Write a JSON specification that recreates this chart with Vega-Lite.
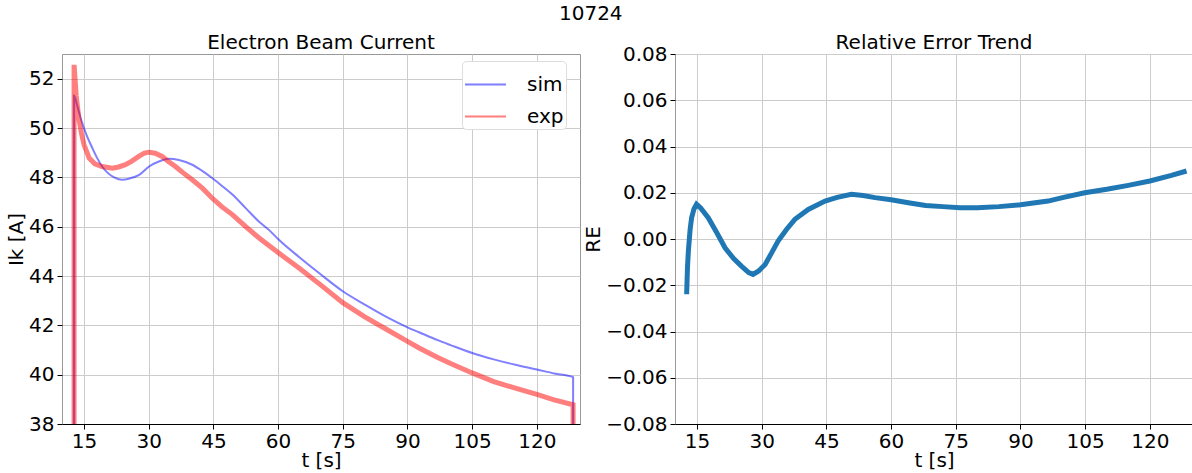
{
  "$schema": "https://vega.github.io/schema/vega-lite/v6.json",
  "padding": {"left": 6, "top": 4, "right": 0, "bottom": 0},
  "title": {"text": "10724", "fontSize": 20, "fontWeight": "normal", "anchor": "middle", "offset": 8.5, "dx": -9},
  "datasets": {
    "beam": [
      {"i": 0, "t": 12.7, "Ik": 38, "series": "sim"},
      {"i": 1, "t": 12.7, "Ik": 51.32, "series": "sim"},
      {"i": 2, "t": 13.5, "Ik": 50.85, "series": "sim"},
      {"i": 3, "t": 14.5, "Ik": 50.25, "series": "sim"},
      {"i": 4, "t": 15.5, "Ik": 49.75, "series": "sim"},
      {"i": 5, "t": 16.9, "Ik": 49.2, "series": "sim"},
      {"i": 6, "t": 18, "Ik": 48.8, "series": "sim"},
      {"i": 7, "t": 19.2, "Ik": 48.44, "series": "sim"},
      {"i": 8, "t": 20.5, "Ik": 48.18, "series": "sim"},
      {"i": 9, "t": 22, "Ik": 48.0, "series": "sim"},
      {"i": 10, "t": 23.9, "Ik": 47.9, "series": "sim"},
      {"i": 11, "t": 25.5, "Ik": 47.95, "series": "sim"},
      {"i": 12, "t": 27.8, "Ik": 48.1, "series": "sim"},
      {"i": 13, "t": 30.1, "Ik": 48.44, "series": "sim"},
      {"i": 14, "t": 32.5, "Ik": 48.65, "series": "sim"},
      {"i": 15, "t": 34.7, "Ik": 48.75, "series": "sim"},
      {"i": 16, "t": 37, "Ik": 48.7, "series": "sim"},
      {"i": 17, "t": 40.1, "Ik": 48.51, "series": "sim"},
      {"i": 18, "t": 42.5, "Ik": 48.25, "series": "sim"},
      {"i": 19, "t": 44.7, "Ik": 47.97, "series": "sim"},
      {"i": 20, "t": 47, "Ik": 47.65, "series": "sim"},
      {"i": 21, "t": 49.4, "Ik": 47.3, "series": "sim"},
      {"i": 22, "t": 52.5, "Ik": 46.75, "series": "sim"},
      {"i": 23, "t": 55.6, "Ik": 46.2, "series": "sim"},
      {"i": 24, "t": 58, "Ik": 45.85, "series": "sim"},
      {"i": 25, "t": 60, "Ik": 45.5, "series": "sim"},
      {"i": 26, "t": 65, "Ik": 44.75, "series": "sim"},
      {"i": 27, "t": 70, "Ik": 44.05, "series": "sim"},
      {"i": 28, "t": 75, "Ik": 43.38, "series": "sim"},
      {"i": 29, "t": 80, "Ik": 42.85, "series": "sim"},
      {"i": 30, "t": 85, "Ik": 42.35, "series": "sim"},
      {"i": 31, "t": 90, "Ik": 41.92, "series": "sim"},
      {"i": 32, "t": 92.7, "Ik": 41.72, "series": "sim"},
      {"i": 33, "t": 97, "Ik": 41.4, "series": "sim"},
      {"i": 34, "t": 100, "Ik": 41.2, "series": "sim"},
      {"i": 35, "t": 105, "Ik": 40.88, "series": "sim"},
      {"i": 36, "t": 110, "Ik": 40.62, "series": "sim"},
      {"i": 37, "t": 115, "Ik": 40.4, "series": "sim"},
      {"i": 38, "t": 120, "Ik": 40.21, "series": "sim"},
      {"i": 39, "t": 124, "Ik": 40.05, "series": "sim"},
      {"i": 40, "t": 128.4, "Ik": 39.9, "series": "sim"},
      {"i": 41, "t": 128.4, "Ik": 38, "series": "sim"},
      {"i": 0, "t": 12.7, "Ik": 38, "series": "exp"},
      {"i": 1, "t": 12.7, "Ik": 52.56, "series": "exp"},
      {"i": 2, "t": 13.2, "Ik": 51.3, "series": "exp"},
      {"i": 3, "t": 13.8, "Ik": 50.4, "series": "exp"},
      {"i": 4, "t": 14.4, "Ik": 49.8, "series": "exp"},
      {"i": 5, "t": 15, "Ik": 49.33, "series": "exp"},
      {"i": 6, "t": 16.2, "Ik": 48.78, "series": "exp"},
      {"i": 7, "t": 17.5, "Ik": 48.55, "series": "exp"},
      {"i": 8, "t": 19.2, "Ik": 48.44, "series": "exp"},
      {"i": 9, "t": 21.6, "Ik": 48.37, "series": "exp"},
      {"i": 10, "t": 23, "Ik": 48.42, "series": "exp"},
      {"i": 11, "t": 24.6, "Ik": 48.51, "series": "exp"},
      {"i": 12, "t": 26, "Ik": 48.65, "series": "exp"},
      {"i": 13, "t": 27.7, "Ik": 48.85, "series": "exp"},
      {"i": 14, "t": 29, "Ik": 48.98, "series": "exp"},
      {"i": 15, "t": 30.1, "Ik": 49.02, "series": "exp"},
      {"i": 16, "t": 31.5, "Ik": 48.98, "series": "exp"},
      {"i": 17, "t": 33.1, "Ik": 48.85, "series": "exp"},
      {"i": 18, "t": 34.5, "Ik": 48.65, "series": "exp"},
      {"i": 19, "t": 36.2, "Ik": 48.44, "series": "exp"},
      {"i": 20, "t": 38, "Ik": 48.18, "series": "exp"},
      {"i": 21, "t": 40.1, "Ik": 47.9, "series": "exp"},
      {"i": 22, "t": 42.5, "Ik": 47.55, "series": "exp"},
      {"i": 23, "t": 44.7, "Ik": 47.16, "series": "exp"},
      {"i": 24, "t": 47, "Ik": 46.8, "series": "exp"},
      {"i": 25, "t": 49.4, "Ik": 46.49, "series": "exp"},
      {"i": 26, "t": 52.5, "Ik": 46.0, "series": "exp"},
      {"i": 27, "t": 55.6, "Ik": 45.54, "series": "exp"},
      {"i": 28, "t": 60, "Ik": 44.95, "series": "exp"},
      {"i": 29, "t": 65, "Ik": 44.3, "series": "exp"},
      {"i": 30, "t": 70, "Ik": 43.62, "series": "exp"},
      {"i": 31, "t": 75, "Ik": 42.92, "series": "exp"},
      {"i": 32, "t": 80, "Ik": 42.35, "series": "exp"},
      {"i": 33, "t": 85, "Ik": 41.85, "series": "exp"},
      {"i": 34, "t": 90, "Ik": 41.35, "series": "exp"},
      {"i": 35, "t": 92.7, "Ik": 41.08, "series": "exp"},
      {"i": 36, "t": 97, "Ik": 40.7, "series": "exp"},
      {"i": 37, "t": 100, "Ik": 40.45, "series": "exp"},
      {"i": 38, "t": 105, "Ik": 40.07, "series": "exp"},
      {"i": 39, "t": 110, "Ik": 39.72, "series": "exp"},
      {"i": 40, "t": 115, "Ik": 39.45, "series": "exp"},
      {"i": 41, "t": 120, "Ik": 39.2, "series": "exp"},
      {"i": 42, "t": 124, "Ik": 38.98, "series": "exp"},
      {"i": 43, "t": 128.4, "Ik": 38.78, "series": "exp"},
      {"i": 44, "t": 128.4, "Ik": 38, "series": "exp"}
    ],
    "re": [
      {"t": 12.6, "RE": -0.0239},
      {"t": 12.8, "RE": -0.012},
      {"t": 13, "RE": -0.0052},
      {"t": 13.4, "RE": 0.004},
      {"t": 13.75, "RE": 0.0092},
      {"t": 14.3, "RE": 0.013},
      {"t": 14.9, "RE": 0.015},
      {"t": 15.8, "RE": 0.0135},
      {"t": 17.6, "RE": 0.0092},
      {"t": 19.5, "RE": 0.003},
      {"t": 21.5, "RE": -0.0038},
      {"t": 23.5, "RE": -0.0085},
      {"t": 25.3, "RE": -0.0117},
      {"t": 27, "RE": -0.0145},
      {"t": 28, "RE": -0.0153},
      {"t": 29.3, "RE": -0.0138},
      {"t": 30.8, "RE": -0.011},
      {"t": 32.3, "RE": -0.006},
      {"t": 33.8, "RE": -0.0009},
      {"t": 35.7, "RE": 0.004},
      {"t": 37.7, "RE": 0.0085},
      {"t": 40.8, "RE": 0.0128},
      {"t": 44.7, "RE": 0.0164},
      {"t": 47.5, "RE": 0.018},
      {"t": 50.8, "RE": 0.0193},
      {"t": 53.5, "RE": 0.0188},
      {"t": 56.3, "RE": 0.0179},
      {"t": 60, "RE": 0.017},
      {"t": 64, "RE": 0.0157},
      {"t": 68, "RE": 0.0145},
      {"t": 72, "RE": 0.014},
      {"t": 76, "RE": 0.0135},
      {"t": 80, "RE": 0.0135},
      {"t": 85, "RE": 0.014},
      {"t": 90, "RE": 0.0148},
      {"t": 96.4, "RE": 0.0164},
      {"t": 100, "RE": 0.018},
      {"t": 104.9, "RE": 0.02},
      {"t": 110, "RE": 0.0215},
      {"t": 115, "RE": 0.0232},
      {"t": 120, "RE": 0.0251},
      {"t": 125, "RE": 0.0275},
      {"t": 128.5, "RE": 0.0294}
    ]
  },
  "hconcat": [
    {
      "width": 518,
      "height": 370,
      "title": "Electron Beam Current",
      "data": {"name": "beam"},
      "encoding": {
        "x": {"field": "t", "type": "quantitative", "scale": {"domain": [9.9, 130], "nice": false, "zero": false}, "axis": {"values": [15, 30, 45, 60, 75, 90, 105, 120], "title": "t [s]"}},
        "y": {"field": "Ik", "type": "quantitative", "scale": {"domain": [38, 53], "nice": false, "zero": false}, "axis": {"values": [38, 40, 42, 44, 46, 48, 50, 52], "title": "Ik [A]"}},
        "color": {"field": "series", "type": "nominal", "scale": {"domain": ["sim", "exp"], "range": ["blue", "red"]}, "legend": {"title": null, "orient": "none", "legendX": 400, "legendY": 7}},
        "order": {"field": "i", "type": "quantitative"}
      },
      "layer": [
        {"transform": [{"filter": "datum.series === 'sim'"}], "mark": {"type": "line", "strokeWidth": 2, "opacity": 0.5, "clip": true, "interpolate": "monotone"}},
        {"transform": [{"filter": "datum.series === 'exp'"}], "mark": {"type": "line", "strokeWidth": 5, "opacity": 0.5, "clip": true}}
      ]
    },
    {
      "width": 518,
      "height": 370,
      "title": {"text": "Relative Error Trend", "offset": -9},
      "data": {"name": "re"},
      "mark": {"type": "line", "strokeWidth": 5, "color": "#1f77b4", "clip": true},
      "encoding": {
        "x": {"field": "t", "type": "quantitative", "scale": {"domain": [9.9, 130], "nice": false, "zero": false}, "axis": {"values": [15, 30, 45, 60, 75, 90, 105, 120], "title": "t [s]"}},
        "y": {"field": "RE", "type": "quantitative", "scale": {"domain": [-0.08, 0.08], "nice": false, "zero": false}, "axis": {"values": [-0.08, -0.06, -0.04, -0.02, 0, 0.02, 0.04, 0.06, 0.08], "format": ".2f", "title": "RE"}}
      }
    }
  ],
  "spacing": 95,
  "bounds": "flush",
  "config": {
    "font": "DejaVu Sans",
    "view": {"stroke": "#999999", "strokeWidth": 1},
    "axis": {"labelFontSize": 20, "titleFontSize": 20, "titleFontWeight": "normal", "labelColor": "#000", "titleColor": "#000", "gridColor": "#cccccc", "gridWidth": 1, "tickColor": "#000", "tickSize": 5, "labelPadding": 3, "domain": false},
    "axisX": {"domain": true, "domainColor": "#000", "titlePadding": -1, "labelPadding": 2},
    "axisY": {"titlePadding": 2},
    "title": {"fontSize": 20, "fontWeight": "normal", "offset": 1},
    "legend": {"labelFontSize": 20, "symbolType": "stroke", "symbolSize": 1681, "symbolStrokeWidth": 2, "symbolOpacity": 0.5, "fillColor": "white", "strokeColor": "#dddddd", "cornerRadius": 4, "padding": 2, "rowPadding": -2, "labelOffset": 20}
  }
}
